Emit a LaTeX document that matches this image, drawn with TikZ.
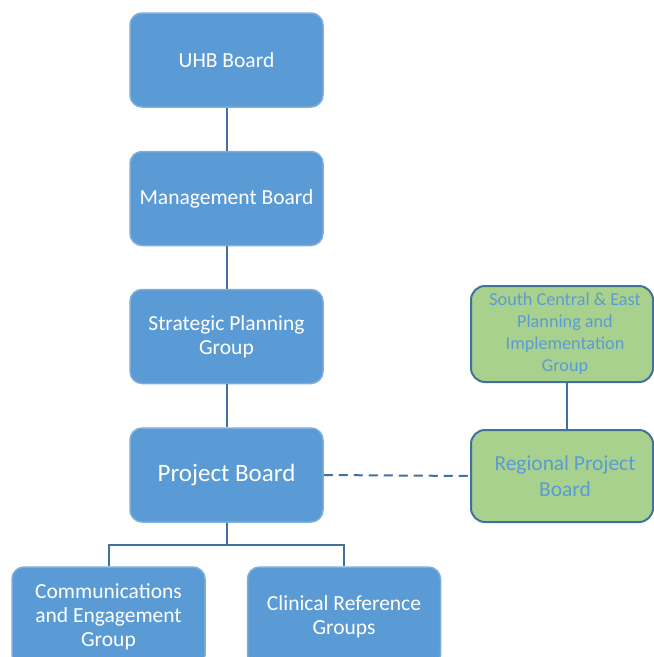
\documentclass[tikz,border=0pt]{standalone}
\usepackage{fontspec}
\setmainfont{Carlito}
\definecolor{boxblue}{HTML}{5B9BD5}
\definecolor{linec}{HTML}{41719C}
\definecolor{boxgreen}{HTML}{A9D18E}
\begin{document}
\begin{tikzpicture}[x=1pt,y=-1pt,
  bluebox/.style={draw=boxblue!80!white, line width=1.5pt, fill=boxblue, rounded corners=12pt, text=white, align=center, inner sep=0pt, minimum width=193pt, minimum height=94pt, font=\fontsize{21.5}{24}\selectfont},
  greenbox/.style={draw=linec, line width=2pt, fill=boxgreen, rounded corners=14pt, text=boxblue, align=center, inner sep=0pt, minimum width=182pt, minimum height=96pt},
  conn/.style={draw=linec, line width=2pt}]
\useasboundingbox (0,0) rectangle (654,657);
\fill[white] (0,0) rectangle (654,657);
\node[bluebox] (uhb) at (226.5,60) {UHB Board};
\node[bluebox] (mgmt) at (226.5,198.5) {Management Board};
\node[bluebox] (spg) at (226.5,336.5) {Strategic Planning\\Group};
\node[bluebox, font=\fontsize{25}{28}\selectfont] (pb) at (226.5,475) {Project Board};
\node[bluebox, minimum height=100pt] (ceg) at (108.5,617) {Communications\\and Engagement\\Group};
\node[bluebox, minimum height=100pt] (crg) at (344,617) {Clinical Reference\\Groups};
\node[greenbox, font=\fontsize{18.2}{22}\selectfont] (sce) at (562,334) {\hspace*{6pt}South Central \& East\\\hspace*{6pt}Planning and\\\hspace*{6pt}Implementation\\\hspace*{6pt}Group};
\node[greenbox, minimum height=92pt, font=\fontsize{21.4}{26}\selectfont] (rpb) at (562,476) {\hspace*{6pt}Regional Project\\\hspace*{6pt}Board};
\draw[conn] (uhb) -- (mgmt);
\draw[conn] (mgmt) -- (spg);
\draw[conn] (spg) -- (pb);
\draw[conn] (sce.south -| 567,0) -- (rpb.north -| 567,0);
\draw[conn, dashed, dash pattern=on 9pt off 6pt] (pb.east) -- (rpb.west);
\coordinate (split) at (226.5,545);
\draw[conn] (pb.south) -- (split);
\draw[conn] (ceg.north) |- (split) -| (crg.north);
\end{tikzpicture}
\end{document}
